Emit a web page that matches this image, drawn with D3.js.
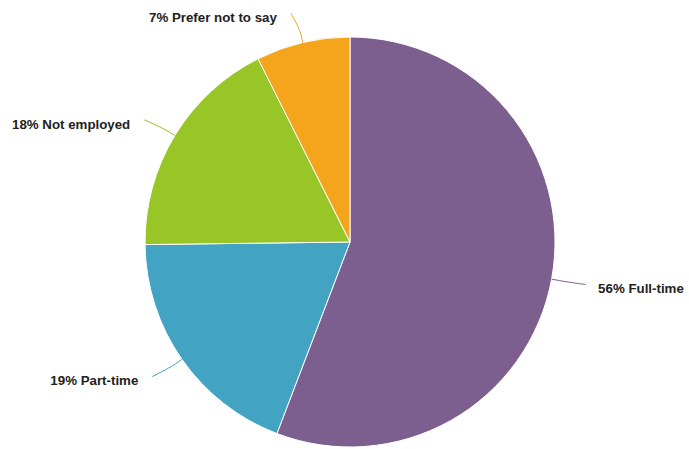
<!DOCTYPE html>
<html><head><meta charset="utf-8">
<script src="https://cdn.jsdelivr.net/npm/d3@7"></script>
<style>body{margin:0;background:#fff}svg{display:block}</style>
</head><body>
<svg id="c" width="689" height="449"></svg>
<script>
const categories = ["Full-time", "Part-time", "Not employed", "Prefer not to say"];
const values = [55.8, 19.0, 17.8, 7.4];
const labels = ["56%", "19%", "18%", "7%"];
const colors = ["#7c5f8f", "#42a3c2", "#98c627", "#f5a51c"];

const W = 689, H = 449, cx = 350, cy = 242, R = 205, labelDist = 30;
const svg = d3.select("#c");
const g = svg.append("g").attr("transform", `translate(${cx},${cy})`);

const data = categories.map((c, i) => ({ name: c, value: values[i], label: labels[i], color: colors[i] }));
const pie = d3.pie().value(d => d.value).sort(null);
const arcs = pie(data);
const arc = d3.arc().innerRadius(0).outerRadius(R);

g.selectAll("path.slice").data(arcs).join("path")
  .attr("class", "slice")
  .attr("d", arc)
  .attr("fill", d => d.data.color)
  .attr("stroke", "#fff").attr("stroke-width", 1).attr("stroke-linejoin", "round");

arcs.forEach(a => {
  const m = (a.startAngle + a.endAngle) / 2;
  const s = Math.sin(m), c = -Math.cos(m);
  const side = s >= 0 ? 1 : -1;
  const ex = R * s, ey = R * c;                 // edge point
  const bx = (R + 8) * s, by = (R + 8) * c;     // break point
  const lx = (R + labelDist) * s + side * 5, ly = (R + labelDist) * c;
  const path = `M${lx},${ly} C${lx},${ly} ${2 * bx - ex},${2 * by - ey} ${bx},${by} L${ex},${ey}`;
  g.append("path").attr("d", path).attr("fill", "none")
    .attr("stroke", a.data.color).attr("stroke-width", 1);
  g.append("text")
    .attr("x", lx + side * (side > 0 ? 12 : 14)).attr("y", ly + 4)
    .attr("dy", "0.35em")
    .attr("text-anchor", side > 0 ? "start" : "end")
    .attr("font-family", "'Liberation Sans', Arial, sans-serif")
    .attr("font-size", "13.3px").attr("font-weight", "bold")
    .attr("fill", "#222")
    .text(`${a.data.label} ${a.data.name}`);
});
</script>
</body></html>
